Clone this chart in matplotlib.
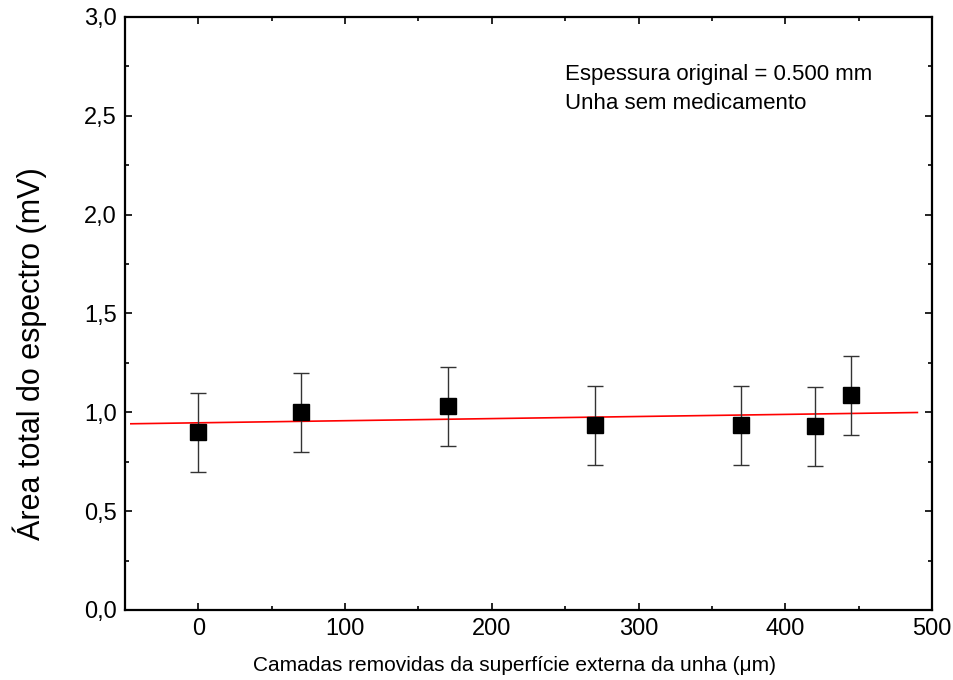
import matplotlib
matplotlib.use("Agg")
import matplotlib.pyplot as plt
from matplotlib.ticker import MultipleLocator

plt.rcParams["font.family"] = ["Liberation Sans", "DejaVu Sans"]

# data
layers = [0, 70, 170, 270, 370, 420, 445]
area = [0.90, 1.00, 1.03, 0.935, 0.935, 0.93, 1.087]
area_err = [0.20, 0.20, 0.20, 0.20, 0.20, 0.20, 0.20]

fit_x = [-46, 490]
fit_y = [0.942, 0.999]

fig = plt.figure(figsize=(9.54, 6.8), dpi=100)
ax = fig.add_axes([0.131, 0.103, 0.846, 0.872])

ax.plot(fit_x, fit_y, color="red", lw=1.2, zorder=2)
ax.errorbar(layers, area, yerr=area_err, fmt="s", color="black", ms=11,
            ecolor="#333333", elinewidth=1, capsize=6, capthick=1, zorder=3)

ax.set_xlim(-50, 500)
ax.set_ylim(0, 3.0)
ax.xaxis.set_major_locator(MultipleLocator(100))
ax.xaxis.set_minor_locator(MultipleLocator(50))
ax.yaxis.set_major_locator(MultipleLocator(0.5))
ax.yaxis.set_minor_locator(MultipleLocator(0.25))
ax.yaxis.set_major_formatter(plt.FuncFormatter(lambda v, p: f"{v:.1f}".replace(".", ",")))
ax.tick_params(which="both", direction="in", top=True, right=True, width=1.2)
ax.tick_params(which="major", length=5, labelsize=17, pad=6)
ax.tick_params(which="minor", length=3)
for s in ax.spines.values():
    s.set_linewidth(1.6)

ax.set_xlabel("Camadas removidas da superfície externa da unha (μm)", fontsize=15)
ax.set_ylabel("Área total do espectro (mV)", fontsize=22)
ax.xaxis.set_label_coords(0.483, -0.078)
ax.yaxis.set_label_coords(-0.097, 0.432)

ax.text(0.545, 0.92, "Espessura original = 0.500 mm\nUnha sem medicamento",
        transform=ax.transAxes, fontsize=16, ha="left", va="top", linespacing=1.45)

fig.savefig("out.png", dpi=100)
